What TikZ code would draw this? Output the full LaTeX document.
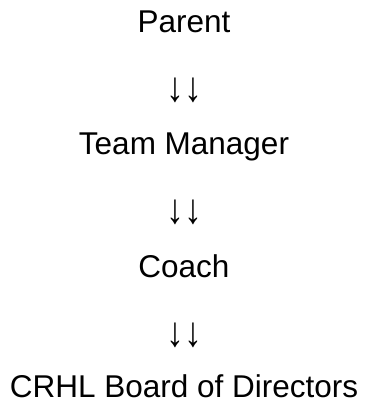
\documentclass[tikz,border=0pt]{standalone}
\usepackage{fontspec}
\setmainfont{Liberation Sans}
\begin{document}
\begin{tikzpicture}[x=1pt,y=-1pt,
  lbl/.style={anchor=base,inner sep=0pt,font=\fontsize{31.5}{36}\selectfont},
  arr/.style={anchor=base,inner sep=0pt,font=\fontsize{31}{36}\selectfont}]
\useasboundingbox (0,0) rectangle (368,403);
\node[lbl] (p) at (184,33) {Parent};
\node[arr] (a1) at (184,102) {\scalebox{1.15}[1.35]{↓↓}};
\node[lbl] (t) at (184,155) {Team Manager};
\node[arr] (a2) at (184,223) {\scalebox{1.15}[1.35]{↓↓}};
\node[lbl] (c) at (184,277) {Coach};
\node[arr] (a3) at (184,346) {\scalebox{1.15}[1.35]{↓↓}};
\node[lbl] (b) at (184,397) {CRHL Board of Directors};
\end{tikzpicture}
\end{document}
